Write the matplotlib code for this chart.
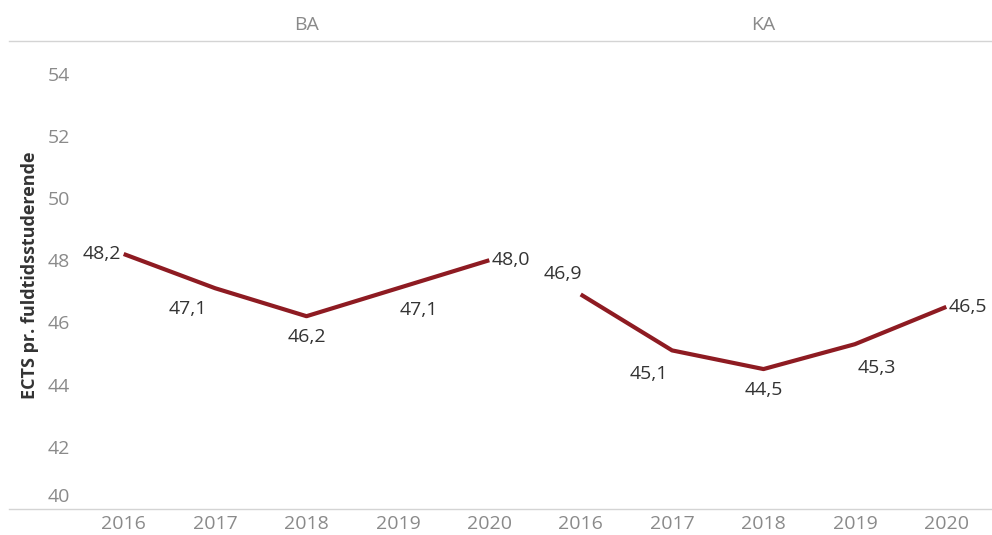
import matplotlib
matplotlib.use("Agg")
import matplotlib.pyplot as plt
from matplotlib.lines import Line2D
import matplotlib.transforms as mtransforms

plt.rcParams['font.family'] = ['Open Sans', 'DejaVu Sans']

years = ['2016', '2017', '2018', '2019', '2020']
panels = ['BA', 'KA']
baValues = [48.2, 47.1, 46.2, 47.1, 48.0]
kaValues = [46.9, 45.1, 44.5, 45.3, 46.5]
yTicks = [40, 42, 44, 46, 48, 50, 52, 54]

# label offsets in points (dx, dy, ha, va)
baOffsets = [(-2, 0, 'right', 'center'), (-6, -15, 'right', 'center'), (0, -15, 'center', 'center'),
             (15, -16, 'center', 'center'), (2, 0, 'left', 'center')]
kaOffsets = [(-13, 15, 'center', 'center'), (-17, -17, 'center', 'center'), (0, -15, 'center', 'center'),
             (16, -17, 'center', 'center'), (2, 0, 'left', 'center')]

lineColor = '#8e1b22'
tickColor = '#8a8a8a'
textColor = '#333333'
W, H = 992, 535
fs = 14

fig = plt.figure(figsize=(W / 100, H / 100), dpi=100)
left, right, top, bottom = 78, 992, 41, 509
panelW = (right - left) / 2

for i, (name, values, offsets) in enumerate(zip(panels, [baValues, kaValues], [baOffsets, kaOffsets])):
    x0 = left + i * panelW
    ax = fig.add_axes([x0 / W, 1 - bottom / H, panelW / W, (bottom - top) / H])
    xs = list(range(len(years)))
    ax.plot(xs, values, color=lineColor, linewidth=3, solid_capstyle='butt')
    for x, v, (dx, dy, ha, va) in zip(xs, values, offsets):
        ax.annotate(f'{v:.1f}'.replace('.', ','), (x, v), xytext=(dx, dy), textcoords='offset points',
                    ha=ha, va=va, fontsize=fs, color=textColor)
    ax.set_xlim(-0.5, len(years) - 0.5)
    ax.set_ylim(40, 55.05)
    ax.set_xticks(xs)
    ax.set_xticklabels(years, fontsize=fs, color=tickColor)
    ax.tick_params(axis='x', length=0, pad=4)
    for s in ax.spines.values():
        s.set_visible(False)
    if i == 0:
        ax.set_yticks(yTicks)
        ax.set_yticklabels([str(t) for t in yTicks], fontsize=fs, color=tickColor)
        ax.tick_params(axis='y', length=0, pad=6)
        lbl = ax.get_yticklabels()[0]
        lbl.set_transform(lbl.get_transform() + mtransforms.ScaledTranslation(0, 14 / 100, fig.dpi_scale_trans))
        ax.set_ylabel('ECTS pr. fuldtidsstuderende', fontsize=13, fontweight='bold', color=textColor, labelpad=6)
    else:
        ax.set_yticks([])
    fig.text((x0 + panelW / 2) / W, 1 - 25 / H, name, ha='center', va='center', fontsize=fs, color=tickColor)

for yy in [top, bottom - 0.5]:
    fig.add_artist(Line2D([9 / W, 1], [1 - yy / H, 1 - yy / H], color='#d4d4d4', linewidth=1))

fig.savefig('out.png', dpi=100)
